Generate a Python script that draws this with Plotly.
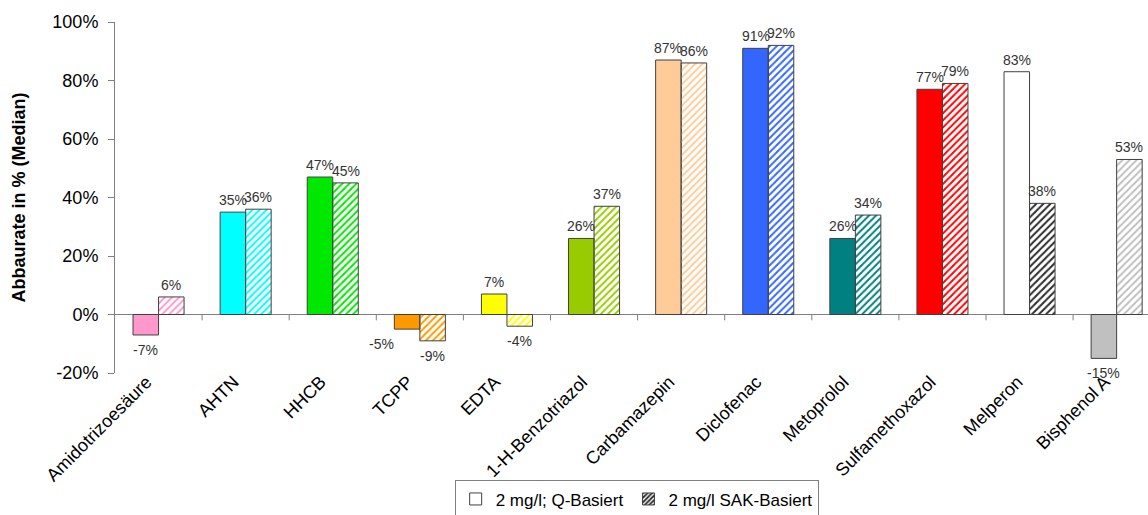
import plotly.graph_objects as go

categories = ["Amidotrizoesäure", "AHTN", "HHCB", "TCPP", "EDTA", "1-H-Benzotriazol",
              "Carbamazepin", "Diclofenac", "Metoprolol", "Sulfamethoxazol", "Melperon", "Bisphenol A"]
q_values = [-7, 35, 47, -5, 7, 26, 87, 91, 26, 77, 83, -15]
sak_values = [6, 36, 45, -9, -4, 37, 86, 92, 34, 79, 38, 53]
colors = ["#FF99CC", "#00FFFF", "#00E800", "#FF9900", "#FFFF00", "#99CC00",
          "#FFCC99", "#3366FF", "#008080", "#FF0000", "#FFFFFF", "#C0C0C0"]
hatch_bg = colors[:10] + ["#2A2A2A", colors[11]]
y_ticks = [-20, 0, 20, 40, 60, 80, 100]
y_ticktext = [f"{v}%" for v in y_ticks]
series_names = ["2 mg/l; Q-Basiert", "2 mg/l SAK-Basiert"]

FONT = "Liberation Sans, Arial, sans-serif"
outline = dict(color="#404040", width=1)
x_idx = list(range(len(categories)))

fig = go.Figure()
fig.add_trace(go.Bar(
    x=x_idx, y=q_values, marker=dict(color=colors, line=outline),
    showlegend=False, offsetgroup="q"))
fig.add_trace(go.Bar(
    x=x_idx, y=sak_values,
    marker=dict(color=hatch_bg, line=outline,
                pattern=dict(shape="/", fgcolor="#FFFFFF", bgcolor=hatch_bg, size=5,
                             solidity=0.4, fillmode="replace")),
    showlegend=False, offsetgroup="s"))

# legend entries
fig.add_trace(go.Bar(x=[None], y=[None], name=series_names[0],
                     marker=dict(color="#FFFFFF", line=outline)))
fig.add_trace(go.Bar(x=[None], y=[None], name=series_names[1],
                     marker=dict(color="#2A2A2A", line=outline,
                                 pattern=dict(shape="/", fgcolor="#FFFFFF", bgcolor="#2A2A2A",
                                              size=4, solidity=0.45, fillmode="replace"))))

# data labels
bar_px = 25.5
label_shift = {("q", 3): (-26, 0)}
for key, vals, side in (("q", q_values, -1), ("s", sak_values, 1)):
    for i, v in enumerate(vals):
        dx, dy = label_shift.get((key, i), (0, 0))
        fig.add_annotation(
            x=i, y=v, text=f"{v}%", showarrow=False,
            xshift=side * bar_px / 2 + dx, yshift=(12 if v >= 0 else -15) + dy,
            font=dict(family=FONT, size=14, color="#333333"))

# small downward ticks under zero line at category boundaries
for i in range(len(categories) - 1):
    fig.add_shape(type="line", xref="x", yref="y", x0=i + 0.5, x1=i + 0.5,
                  y0=0, y1=-2, line=dict(color="#808080", width=1))

fig.update_layout(
    width=1148, height=515,
    margin=dict(l=115, r=0, t=22, b=142, autoexpand=False),
    paper_bgcolor="white", plot_bgcolor="white",
    barmode="group", bargap=0.414, bargroupgap=0,
    font=dict(family=FONT, size=18, color="#000000"),
    legend=dict(orientation="h", x=0.505, xanchor="center", y=-0.306, yanchor="top",
                bordercolor="#808080", borderwidth=1, font=dict(size=17),
                itemwidth=30, tracegroupgap=0),
    xaxis=dict(range=[-0.5, 11.36], tickmode="array", tickvals=x_idx, ticktext=categories,
               tickangle=-45, showline=False, showgrid=False, zeroline=False, automargin=False,
               ticks="", tickfont=dict(size=18), ticklabelshift=-12, ticklabelstandoff=-6),
    yaxis=dict(range=[-20, 100], tickmode="array", tickvals=y_ticks, ticktext=y_ticktext,
               showgrid=False, automargin=False,
               zeroline=True, zerolinecolor="#808080", zerolinewidth=1,
               showline=True, linecolor="#808080", linewidth=1,
               ticks="outside", ticklen=6, tickcolor="#808080", tickfont=dict(size=18),
               ticklabelstandoff=6,
               title=dict(text="<b>Abbaurate in % (Median)</b>", font=dict(size=18), standoff=22)),
)

fig.write_html("out.html")
